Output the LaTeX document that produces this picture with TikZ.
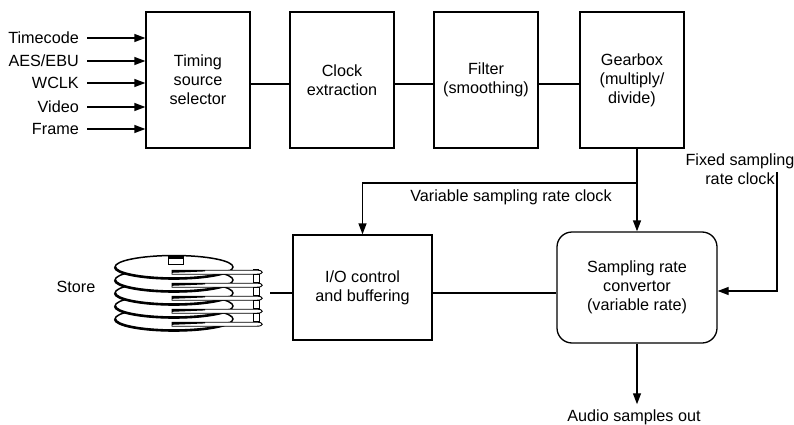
\documentclass[tikz,border=0pt]{standalone}
\usepackage{fontspec}
\setmainfont{Liberation Sans}
\usetikzlibrary{arrows.meta,calc}
\begin{document}
\begin{tikzpicture}[x=1pt,y=-1pt,
  every node/.style={font=\fontsize{16.2}{19}\selectfont, inner sep=0pt, align=center},
  blk/.style={draw, line width=1.3pt, minimum width=104pt, minimum height=136pt},
  wire/.style={line width=1.3pt},
  arr/.style={wire, -{Triangle[length=11pt,width=8pt]}},
  disk/.style={fill=white, line width=1.5pt},
  armpart/.style={fill=white, line width=0.9pt},
]
\useasboundingbox (0,0) rectangle (794,425);

% top chain of processing blocks
\node[blk] (tss)  at (198,80) {Timing\\source\\selector};
\node[blk] (ce)   at (342,80) {Clock\\extraction};
\node[blk] (fil)  at (486,80) {Filter\\(smoothing)};
\node[blk] (gear) at (632,80) {Gearbox\\(multiply/\\divide)};

% lower blocks
\node[draw, line width=1.3pt, minimum width=139pt, minimum height=105pt] (io) at (362.5,287.5) {I/O control\\and buffering};
\node[draw, line width=1.3pt, rounded corners=15pt, minimum width=160pt, minimum height=111pt] (src) at (637,287.5) {Sampling rate\\convertor\\(variable rate)};

% timing inputs
\node[anchor=east] (i1) at (79,38)  {Timecode};
\node[anchor=east] (i2) at (79,61)  {AES/EBU};
\node[anchor=east] (i3) at (79,83)  {WCLK};
\node[anchor=east] (i4) at (79,107) {Video};
\node[anchor=east] (i5) at (79,129) {Frame};
\foreach \n in {i1,i2,i3,i4,i5}
  \draw[arr] ([xshift=8pt]\n.east) -- (\n -| tss.west);

% links along the top chain
\coordinate (ytop) at (0,84);
\draw[wire] (tss.east |- ytop) -- (ce.west |- ytop);
\draw[wire] (ce.east |- ytop) -- (fil.west |- ytop);
\draw[wire] (fil.east |- ytop) -- (gear.west |- ytop);

% variable sampling rate clock
\coordinate (yb) at (0,183);
\draw[arr] (src.north |- gear.south) -- (src.north);
\draw[arr] (src.north |- yb) -- (io.north |- yb) -- (io.north);
\node (vl) at (511,197) {Variable sampling rate clock};

% fixed sampling rate clock
\node (fl) at (740,169) {Fixed sampling\\rate clock};
\coordinate (fx) at (777,172);
\coordinate (yf) at (0,291);
\draw[arr] (fx) -- (fx |- yf) -- (src.east |- yf);

% output
\node (out) at (634,417) {Audio samples out};
\draw[arr, shorten >=5pt] (src.south) -- (src.south |- out.north);

% data path: store -- I/O -- converter
\coordinate (yio) at (0,293);
\coordinate (stk) at (270,293);
\draw[wire] (io.east |- yio) -- (src.west |- yio);
\draw[wire] (stk) -- (io.west |- yio);
\node (store) at (76,287) {Store};

% disk stack, drawn bottom platter first
\foreach \i in {4,3,2,1,0} {
  \filldraw[disk] (174,{267+13*\i}) ellipse [x radius=59, y radius=11.5];
  \draw[line width=2.6pt] (115,{267+13*\i}) arc[start angle=180, end angle=20, x radius=59, y radius=11.5];
}
% spindle hub
\filldraw[fill=white, line width=1pt] (168,256) rectangle (183,264);
\fill (168,256) rectangle (183,258.5);
% head arms
\foreach \i in {0,...,4} {
  \pgfmathsetmacro{\ya}{272+13*\i}
  \filldraw[armpart] (172,{\ya-1.8}) -- (257,{\ya-1.8})
    .. controls (264,{\ya-1.8}) and (264,{\ya+2.2}) .. (257,{\ya+2.2})
    -- (172,{\ya+2.2}) -- cycle;
  \fill (172,{\ya-1.8}) -- (205,{\ya-1.8}) -- (205,{\ya-0.6}) -- (172,{\ya+0.8}) -- cycle;
}
\foreach \i in {0,...,3} {
  \pgfmathsetmacro{\ya}{272+13*\i}
  \filldraw[armpart] (253,{\ya+2.2}) rectangle (259,{\ya+10.8});
}
\fill (253,268.5) rectangle (259,270.2);
\end{tikzpicture}
\end{document}
